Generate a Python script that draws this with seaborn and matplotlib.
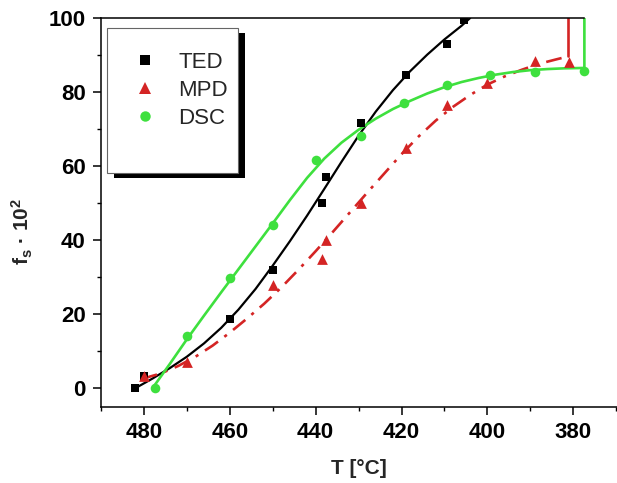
import numpy as np
import pandas as pd
import matplotlib
matplotlib.use("Agg")
import matplotlib.pyplot as plt
import seaborn as sns
from matplotlib.lines import Line2D
from matplotlib.patches import Rectangle
from matplotlib.ticker import MultipleLocator

# ---------------- data ----------------
ted_T = [482, 480, 460, 450, 438.5, 437.5, 429.5, 419, 409.5, 405.5]
ted_f = [0, 3.3, 18.7, 32, 50, 57, 71.5, 84.5, 93, 99.5]

mpd_T = [480, 470, 450, 438.5, 437.5, 429.5, 419, 409.5, 400, 389, 381]
mpd_f = [3.3, 7, 28, 35, 40, 50, 65, 76.5, 82.5, 88.5, 88]

dsc_T = [477.5, 470, 460, 450, 440, 429.5, 419.5, 409.5, 399.5, 389, 377.5]
dsc_f = [0, 14, 29.7, 44, 61.7, 68, 77, 82, 84.5, 85.5, 85.6]

# fitted curves as drawn in the picture
ted_fit_T = [482, 478, 474, 470, 466, 462, 458, 454, 450, 446, 442, 438, 434,
             430, 426, 422, 418, 414, 410, 406, 404]
ted_fit_f = [0, 2.6, 5.4, 8.5, 12.1, 16.3, 21.2, 26.8, 33.1, 39.7, 46.6, 53.8, 61.1,
             68.2, 74.7, 80.5, 85.6, 90.1, 94.2, 97.9, 100]

mpd_fit_T = [480.5, 476, 472, 468, 464, 460, 456, 452, 448, 444, 440, 436, 432,
             428, 424, 420, 416, 412, 408, 404, 400, 396, 392, 388, 384, 381.2]
mpd_fit_f = [2.5, 4.0, 6.0, 8.5, 11.5, 15.0, 18.8, 22.8, 27.2, 32.0, 37.0, 42.2, 47.5,
             52.8, 58.0, 63.2, 68.0, 72.3, 76.0, 79.2, 82.0, 84.2, 86.0, 87.6, 88.8, 89.6]
# vertical end of the MPD fit (drawn solid in the picture)
mpd_end_T = [381.2, 381.2]
mpd_end_f = [89.6, 100]

dsc_fit_T = [478, 474, 470, 466, 462, 458, 454, 450, 446, 442, 438, 434, 430,
             426, 422, 418, 414, 410, 406, 402, 398, 394, 390, 386, 382, 377.4, 377.4]
dsc_fit_f = [0, 6.5, 13.2, 19.6, 25.9, 32.1, 38.3, 44.5, 50.8, 56.8, 62.0, 66.3, 69.8,
             72.8, 75.4, 77.6, 79.6, 81.3, 82.7, 83.8, 84.7, 85.4, 85.9, 86.2, 86.4, 86.5, 100]

series_labels = ["TED", "MPD", "DSC"]
x_ticks = [480, 460, 440, 420, 400, 380]
x_tick_labels = ["480", "460", "440", "420", "400", "380"]
y_ticks = [0, 20, 40, 60, 80, 100]
y_tick_labels = ["0", "20", "40", "60", "80", "100"]

# ---------------- style ----------------
sns.set_style("ticks")
plt.rcParams["font.family"] = ["Liberation Sans", "DejaVu Sans"]
plt.rcParams["mathtext.fontset"] = "custom"
plt.rcParams["mathtext.rm"] = "Liberation Sans:bold"
plt.rcParams["mathtext.bf"] = "Liberation Sans:bold"
plt.rcParams["mathtext.it"] = "Liberation Sans:bold"

c_ted = "black"
c_mpd = "#d42424"
c_dsc = "#3ee03e"

fig = plt.figure(figsize=(6.17, 4.83), dpi=100)
ax = fig.add_axes([0.1637, 0.158, 0.8363, 0.8048])

# fit curves
sns.lineplot(x=ted_fit_T, y=ted_fit_f, sort=False, estimator=None,
             color=c_ted, linewidth=1.6, ax=ax)
sns.lineplot(x=mpd_fit_T, y=mpd_fit_f, sort=False, estimator=None,
             color=c_mpd, linewidth=1.9, linestyle=(0, (6, 3, 1.2, 3)), ax=ax)
sns.lineplot(x=mpd_end_T, y=mpd_end_f, sort=False, estimator=None,
             color=c_mpd, linewidth=1.9, ax=ax)
sns.lineplot(x=dsc_fit_T, y=dsc_fit_f, sort=False, estimator=None,
             color=c_dsc, linewidth=1.9, ax=ax)

# data markers
sns.scatterplot(x=ted_T, y=ted_f, marker="s", color=c_ted, s=40,
                linewidth=0, ax=ax, zorder=3)
sns.scatterplot(x=mpd_T, y=mpd_f, marker="^", color=c_mpd, s=60,
                linewidth=0, ax=ax, zorder=3)
sns.scatterplot(x=dsc_T, y=dsc_f, marker="o", color=c_dsc, s=48,
                linewidth=0, ax=ax, zorder=3)

# axes
ax.set_xlim(490, 369.8)
ax.set_ylim(-5, 100)
ax.set_xticks(x_ticks, labels=x_tick_labels, fontweight="bold", fontsize=16)
ax.set_yticks(y_ticks, labels=y_tick_labels, fontweight="bold", fontsize=16)
ax.xaxis.set_minor_locator(MultipleLocator(10))
ax.yaxis.set_minor_locator(MultipleLocator(10))
ax.tick_params(which="major", direction="out", length=6, width=1.1,
               color="black", pad=5, labelcolor="black")
ax.tick_params(which="minor", direction="out", length=3, width=1.0,
               color="black")
ax.tick_params(top=False, right=False, which="both")

for side in ["left", "bottom", "top"]:
    ax.spines[side].set_color("black")
    ax.spines[side].set_linewidth(1.1)
ax.spines["right"].set_visible(False)
ax.spines["top"].set_bounds(490, 377.4)

ax.set_xlabel("T [°C]", fontsize=15, fontweight="bold")
ax.set_ylabel(r"f$_\mathbf{s}$ · 10$^\mathbf{2}$", fontsize=15, fontweight="bold")
ax.xaxis.set_label_coords(0.5, -0.134)
ax.yaxis.set_label_coords(-0.128, 0.45)

# legend box with shadow
lx, ly, lw_, lh = 0.0116, 0.6012, 0.2539, 0.3731
ax.add_patch(Rectangle((lx + 0.0136, ly - 0.0129), lw_, lh, transform=ax.transAxes,
                       facecolor="black", edgecolor="none", zorder=4, clip_on=False))
ax.add_patch(Rectangle((lx, ly), lw_, lh, transform=ax.transAxes,
                       facecolor="white", edgecolor="#666666", linewidth=0.8,
                       zorder=5, clip_on=False))

handles = [
    Line2D([], [], linestyle="none", marker="s", color=c_ted, markersize=6.5, markeredgewidth=0),
    Line2D([], [], linestyle="none", marker="^", color=c_mpd, markersize=8, markeredgewidth=0),
    Line2D([], [], linestyle="none", marker="o", color=c_dsc, markersize=7.5, markeredgewidth=0),
]
leg = ax.legend(handles, series_labels, loc="upper left",
                bbox_to_anchor=(0.064, 0.912), frameon=False, borderpad=0,
                borderaxespad=0, handlelength=1.0, handletextpad=1.0,
                labelspacing=0.3, fontsize=16)
leg.set_zorder(6)

fig.savefig("out.png", dpi=100)
